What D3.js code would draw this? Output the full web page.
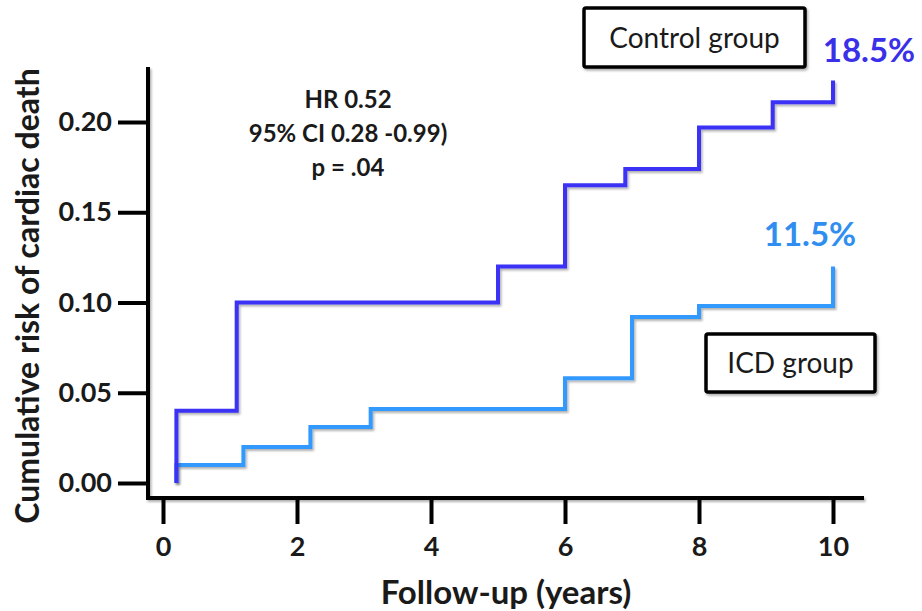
<!DOCTYPE html>
<html>
<head>
<meta charset="utf-8">
<script src="https://cdn.jsdelivr.net/npm/d3@7"></script>
<style>
  body { margin: 0; background: #fff; }
  svg text { font-family: Lato, "Open Sans", sans-serif; }
</style>
</head>
<body>
<svg width="922" height="611"></svg>
<script>
// values
var controlTime = [0.2, 0.2, 1.1, 5.0, 6.0, 6.9, 8.0, 9.1, 10];
var controlRisk = [0, 0.04, 0.10, 0.12, 0.165, 0.174, 0.197, 0.211, 0.223];
var icdTime = [0.2, 0.2, 1.2, 2.2, 3.1, 6.0, 7.0, 8.0, 10];
var icdRisk = [0, 0.01, 0.02, 0.031, 0.041, 0.058, 0.092, 0.098, 0.12];
var xTicks = [0, 2, 4, 6, 8, 10];
var yTicks = [0, 0.05, 0.10, 0.15, 0.20];
var statsLines = ["HR 0.52", "95% CI 0.28 -0.99)", "p = .04"];

var svg = d3.select("svg");

var x = d3.scaleLinear().domain([0, 10]).range([163, 833]);
var y = d3.scaleLinear().domain([0, 0.2]).range([483, 122]);

var defs = svg.append("defs");
defs.append("filter").attr("id", "shadow")
    .attr("x", "-10%").attr("y", "-10%").attr("width", "130%").attr("height", "130%")
  .append("feDropShadow")
    .attr("dx", 1.5).attr("dy", 2).attr("stdDeviation", 1.2)
    .attr("flood-color", "#000").attr("flood-opacity", 0.3);

// y axis
var yAxis = svg.append("g")
    .attr("transform", "translate(148,0)")
    .call(d3.axisLeft(y).tickValues(yTicks).tickSize(30).tickPadding(6)
      .tickFormat(d3.format(".2f")));
yAxis.select(".domain").remove();
yAxis.selectAll("line").attr("stroke", "#000").attr("stroke-width", 4);
yAxis.selectAll("text")
    .attr("font-size", 27).attr("font-weight", "bold").attr("fill", "#1a1a1a")
    .attr("font-family", "Lato, sans-serif");

// x axis
var xAxis = svg.append("g")
    .attr("transform", "translate(0,498)")
    .call(d3.axisBottom(x).tickValues(xTicks).tickSize(26).tickPadding(13));
xAxis.select(".domain").remove();
xAxis.selectAll("line").attr("stroke", "#000").attr("stroke-width", 4);
xAxis.selectAll("text")
    .attr("font-size", 27).attr("font-weight", "bold").attr("fill", "#1a1a1a")
    .attr("font-family", "Lato, sans-serif");

// axis lines
svg.append("path")
    .attr("d", "M148,67V498H864")
    .attr("fill", "none").attr("stroke", "#000").attr("stroke-width", 4)
    .attr("filter", "url(#shadow)");

// step curves
var line = d3.line()
    .x(function(d) { return x(d.t); })
    .y(function(d) { return y(d.r); })
    .curve(d3.curveStepAfter);

function toPoints(ts, rs) {
  return ts.map(function(t, i) { return { t: t, r: rs[i] }; });
}

svg.append("path")
    .datum(toPoints(icdTime, icdRisk))
    .attr("d", line)
    .attr("fill", "none").attr("stroke", "#3399ff").attr("stroke-width", 4)
    .attr("filter", "url(#shadow)");

svg.append("path")
    .datum(toPoints(controlTime, controlRisk))
    .attr("d", line)
    .attr("fill", "none").attr("stroke", "#3a30f5").attr("stroke-width", 4)
    .attr("filter", "url(#shadow)");

// end labels
svg.append("text")
    .attr("x", 869).attr("y", 62).attr("text-anchor", "middle")
    .attr("font-size", 33).attr("font-weight", "bold").attr("fill", "#3a30e8")
    .text("18.5%");
svg.append("text")
    .attr("x", 810).attr("y", 246).attr("text-anchor", "middle")
    .attr("font-size", 33).attr("font-weight", "bold").attr("fill", "#2f8ef0")
    .text("11.5%");

// legend boxes
function box(x0, y0, w, h, label) {
  svg.append("rect")
      .attr("x", x0).attr("y", y0).attr("width", w).attr("height", h)
      .attr("fill", "#fff").attr("stroke", "#000").attr("stroke-width", 3.5)
      .attr("rx", 2).attr("filter", "url(#shadow)");
  svg.append("text")
      .attr("x", x0 + w / 2).attr("y", y0 + h / 2 + 10).attr("text-anchor", "middle")
      .attr("font-size", 28).attr("fill", "#1a1a1a")
      .text(label);
}
box(584, 8, 221, 59, "Control group");
box(706, 334, 169, 58, "ICD group");

// stats
svg.append("g").selectAll("text")
    .data(statsLines)
  .enter().append("text")
    .attr("x", 348)
    .attr("y", function(d, i) { return 108 + i * 34; })
    .attr("text-anchor", "middle")
    .attr("font-size", 24).attr("font-weight", "bold").attr("fill", "#1a1a1a")
    .text(function(d) { return d; });

// axis titles
svg.append("text")
    .attr("x", 506).attr("y", 604).attr("text-anchor", "middle")
    .attr("font-size", 33).attr("font-weight", "bold").attr("fill", "#1a1a1a")
    .text("Follow-up (years)");
svg.append("text")
    .attr("transform", "translate(39,296) rotate(-90)")
    .attr("text-anchor", "middle")
    .attr("font-size", 32).attr("font-weight", "bold").attr("fill", "#1a1a1a")
    .text("Cumulative risk of cardiac death");
</script>
</body>
</html>
